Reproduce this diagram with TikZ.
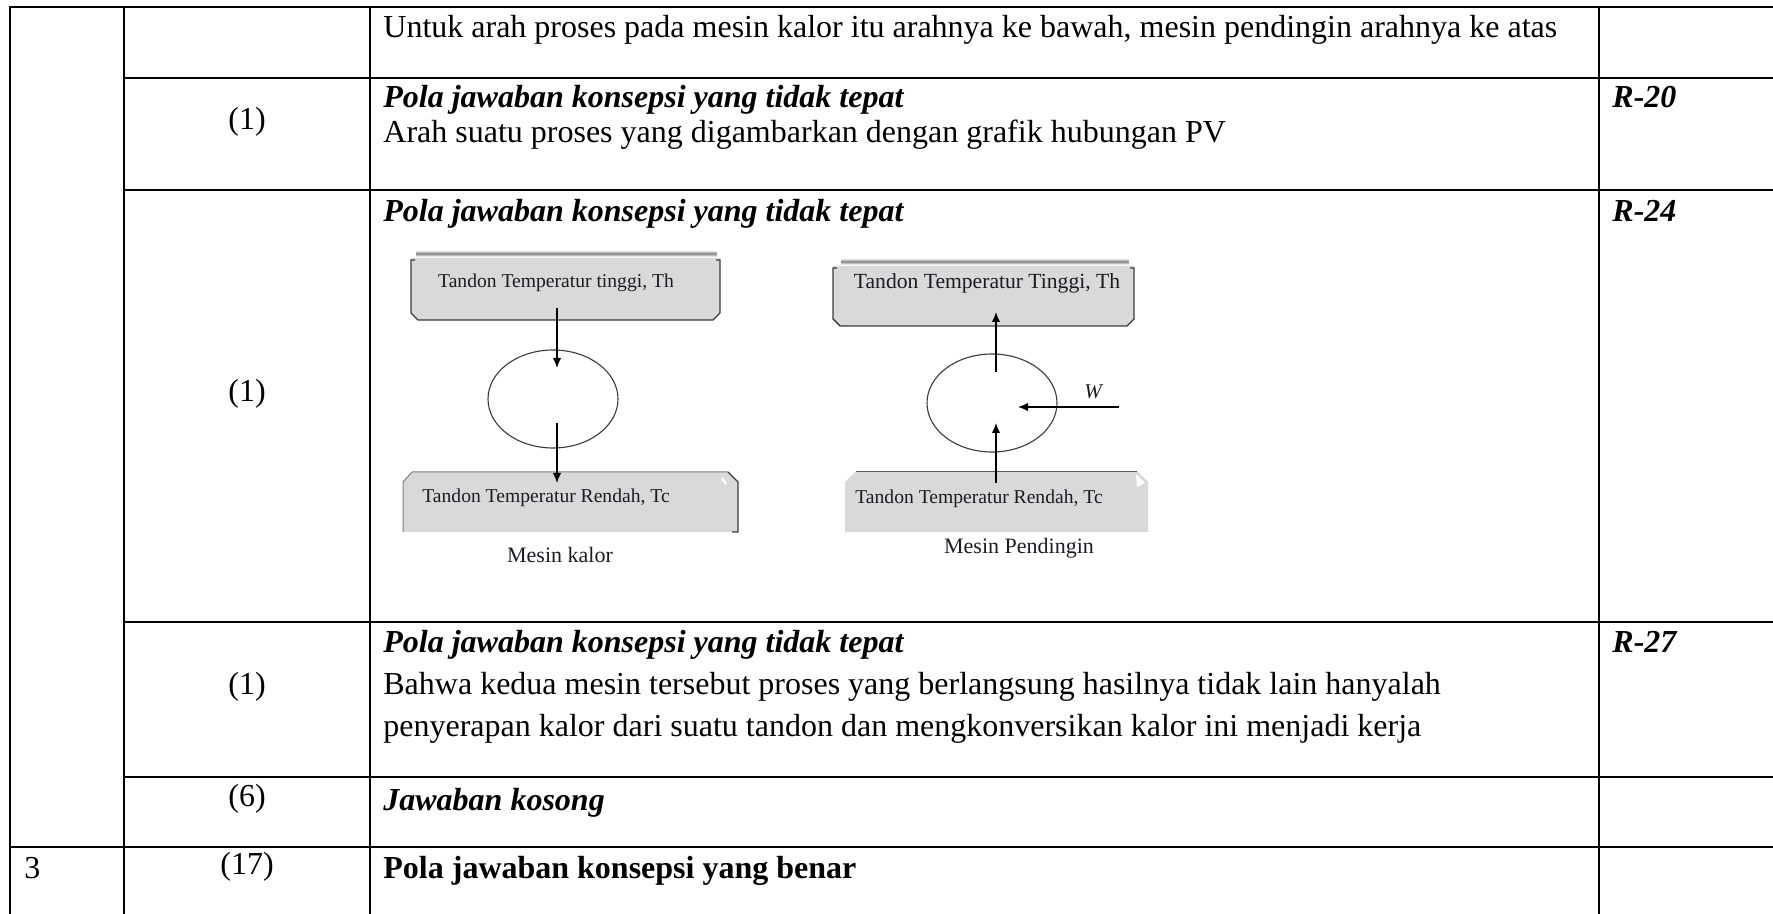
\documentclass[tikz,border=0pt]{standalone}
\usepackage{fontspec}
\setmainfont{Liberation Serif}
\usetikzlibrary{arrows.meta,shapes.geometric}
\definecolor{boxgray}{HTML}{D9D9D9}
\definecolor{shadowgray}{HTML}{8E8E8E}
\definecolor{edgegray}{HTML}{3A3A3A}
\definecolor{inkdark}{HTML}{1E1A24}
\begin{document}
\begin{tikzpicture}[x=0.5pt,y=-0.5pt,
  hrule/.style={line width=1pt,line cap=rect},
  vrule/.style={line width=0.8pt},
  cell/.style={anchor=base west,inner sep=0pt,font=\fontsize{16}{19}\selectfont},
  num/.style={anchor=center,inner sep=0pt,font=\fontsize{16}{19}\selectfont},
  boxline/.style={draw=edgegray,line width=0.7pt,line join=miter},
  boxtext/.style={inner sep=0pt,text=inkdark,font=\fontsize{9.8}{11}\selectfont},
  captext/.style={inner sep=0pt,text=inkdark,font=\fontsize{11}{13}\selectfont},
  engine/.style={ellipse,draw=edgegray,line width=0.55pt,minimum width=65pt,minimum height=49pt,inner sep=0pt},
  arr/.style={line width=0.7pt,-{Latex[length=5pt,width=4.2pt]}},
]
\useasboundingbox (0,0) rectangle (1773,914);

% ---------- table rules ----------
\draw[hrule] (10,7) -- (1773,7);
\draw[hrule] (124,78) -- (1773,78);
\draw[hrule] (124,190) -- (1773,190);
\draw[hrule] (124,622) -- (1773,622);
\draw[hrule] (124,777) -- (1773,777);
\draw[hrule] (10,847) -- (1773,847);
\foreach \xv in {10,124,370,1599} \draw[vrule] (\xv,7) -- (\xv,914);

% ---------- table text ----------
\node[cell] (t1) at (383,38) {Untuk arah proses pada mesin kalor itu arahnya ke bawah, mesin pendingin arahnya ke atas};

\node[num] (n2) at (247,122) {(1)};
\node[cell] (h2) at (383,108) {\bfseries\itshape Pola jawaban konsepsi yang tidak tepat};
\node[cell] (b2) at (383,143) {Arah suatu proses yang digambarkan dengan grafik hubungan PV};
\node[cell] (r2) at (1612,108) {\bfseries\itshape R-20};

\node[num] (n3) at (247,394) {(1)};
\node[cell] (h3) at (383,222) {\bfseries\itshape Pola jawaban konsepsi yang tidak tepat};
\node[cell] (r3) at (1612,222) {\bfseries\itshape R-24};

\node[num] (n4) at (247,687) {(1)};
\node[cell] (h4) at (383,652) {\bfseries\itshape Pola jawaban konsepsi yang tidak tepat};
\node[cell] (b4a) at (383,694) {Bahwa kedua mesin tersebut proses yang berlangsung hasilnya tidak lain hanyalah};
\node[cell] (b4b) at (383,736) {penyerapan kalor dari suatu tandon dan mengkonversikan kalor ini menjadi kerja};
\node[cell] (r4) at (1612,652) {\bfseries\itshape R-27};

\node[num] (n5) at (247,799) {(6)};
\node[cell] (h5) at (383,810) {\bfseries\itshape Jawaban kosong};

\node[cell] (c6) at (24,878) {3};
\node[num] (n6) at (247,867) {(17)};
\node[cell] (h6) at (383,878) {\bfseries Pola jawaban konsepsi yang benar};

% ---------- heat engine sketch ----------
% hot reservoir
\foreach \w/\o in {3.2pt/0.25,2.2pt/0.45,1.2pt/0.85}
  \draw[shadowgray,line width=\w,opacity=\o] (416,254) -- (717,254);
\fill[boxgray] (411,258) -- (720,258) -- (720,313) -- (713,320) -- (418,320) -- (411,313) -- cycle;
\draw[boxline] (415,260) -- (411,260) -- (411,313) -- (418,320) -- (713,320) -- (720,313) -- (720,260) -- (716,260);
\node[boxtext] (hotA) at (556,283) {Tandon Temperatur tinggi, Th};
% cold reservoir
\fill[boxgray] (403,482) -- (412,472) -- (728,472) -- (738,482) -- (738,532) -- (403,532) -- cycle;
\draw[gray,line width=0.5pt] (403,532) -- (403,482) -- (412,472) -- (728,472);
\draw[boxline] (728,472) -- (738,482) -- (738,532) -- (732,532);
\draw[white,line width=1pt] (722,478) -- (726,484);
\node[boxtext] (coldA) at (546,498) {Tandon Temperatur Rendah, Tc};
% cycle and heat flow
\node[engine] (engA) at (553,399) {};
\coordinate (qhA) at (557,308);
\coordinate (qhAend) at (557,368);
\coordinate (qcA) at (557,423);
\coordinate (qcAend) at (557,483);
\draw[arr] (qhA) -- (qhAend);
\draw[arr] (qcA) -- (qcAend);
\node[captext] (capA) at (560,555) {Mesin kalor};

% ---------- refrigerator sketch ----------
% hot reservoir
\foreach \w/\o in {3.2pt/0.25,2.2pt/0.45,1.2pt/0.85}
  \draw[shadowgray,line width=\w,opacity=\o] (841,262) -- (1129,262);
\fill[boxgray] (833,266) -- (1134,266) -- (1134,319) -- (1127,326) -- (840,326) -- (833,319) -- cycle;
\draw[boxline] (837,268) -- (833,268) -- (833,319) -- (840,326) -- (1127,326) -- (1134,319) -- (1134,268) -- (1130,268);
\node[boxtext,font=\fontsize{10.8}{12}\selectfont] (hotB) at (987,283) {Tandon Temperatur Tinggi, Th};
% cold reservoir
\fill[boxgray] (845,482) -- (855,472) -- (1138,472) -- (1148,482) -- (1148,532) -- (845,532) -- cycle;
\draw[gray!70!black,line width=0.5pt] (856,472) -- (1137,472);
\fill[white] (1136,474) -- (1145,483) -- (1137,487) -- cycle;
\node[boxtext] (coldB) at (979,499) {Tandon Temperatur Rendah, Tc};
% cycle, heat flow and work input
\node[engine] (engB) at (992,403) {};
\coordinate (qhB) at (996,372);
\coordinate (qhBend) at (996,312);
\coordinate (qcB) at (996,483);
\coordinate (qcBend) at (996,423);
\coordinate (wB) at (1119,407);
\coordinate (wBend) at (1018,407);
\draw[arr] (qhB) -- (qhBend);
\draw[arr] (qcB) -- (qcBend);
\draw[arr] (wB) -- (wBend);
\node[captext,font=\fontsize{10.5}{12}\selectfont\itshape] (wlab) at (1093,392) {W};
\node[captext] (capB) at (1019,548) {Mesin Pendingin};
\end{tikzpicture}
\end{document}
